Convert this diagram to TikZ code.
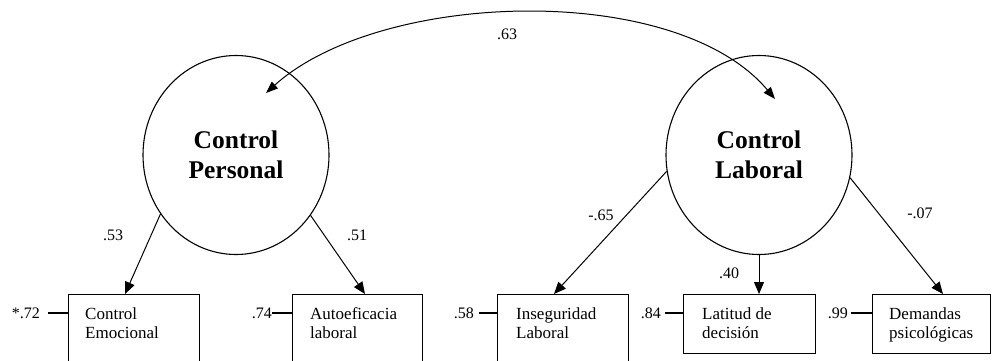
\documentclass[tikz,border=0pt]{standalone}
\usepackage{fontspec}
\setmainfont{Liberation Serif}
\usetikzlibrary{arrows.meta,calc,shapes.geometric}

\tikzset{
  latent/.style={ellipse, draw, line width=1.1pt, minimum width=186pt,
    minimum height=199pt, inner sep=0pt, align=center,
    font=\fontsize{25.5}{30}\selectfont\bfseries},
  obsbox/.style={rectangle, draw, line width=1.2pt, anchor=north west,
    inner sep=0pt, minimum height=90pt},
  boxtext/.style={anchor=base west, align=left, inner sep=0pt,
    font=\fontsize{17}{18.5}\selectfont},
  coef/.style={inner sep=0pt, font=\fontsize{16}{18}\selectfont},
  errlbl/.style={inner sep=0pt, anchor=east, font=\fontsize{16}{18}\selectfont},
  path/.style={line width=1pt, -{Triangle[length=12pt,width=10pt]}},
  corr/.style={line width=1pt, {Triangle[length=12pt,width=9pt]}-{Triangle[length=12pt,width=9pt]}},
  errline/.style={line width=1.1pt}
}

\begin{document}
\begin{tikzpicture}[x=1pt,y=1pt]
\useasboundingbox (0,0) rectangle (993,-360);
\clip (0,0) rectangle (993,-360);

% latent factors
\node[latent] (cp) at (236,-155) {Control\\Personal};
\node[latent] (cl) at (759,-155) {Control\\Laboral};

% observed indicators
\node[obsbox, minimum width=131pt] (ce)  at (68,-294)  {};
\node[obsbox, minimum width=130pt] (ae)  at (292,-294) {};
\node[obsbox, minimum width=131pt] (ins) at (497,-294) {};
\node[obsbox, minimum width=132pt, minimum height=59pt] (lat) at (683,-294) {};
\node[obsbox, minimum width=118pt, minimum height=59pt] (dem) at (872,-294) {};

% two-line captions; the base anchor sits on the second line
\node[boxtext] (tce)  at ($(ce.north west)+(17,-44)$)  {Control\\Emocional};
\node[boxtext] (tae)  at ($(ae.north west)+(18,-44)$)  {Autoeficacia\\laboral};
\node[boxtext] (tins) at ($(ins.north west)+(19,-44)$) {Inseguridad\\Laboral};
\node[boxtext] (tlat) at ($(lat.north west)+(19,-44)$) {Latitud de\\decisión};
\node[boxtext] (tdem) at ($(dem.north west)+(17,-44)$) {Demandas\\psicológicas};

% correlation between factors
\draw[corr] ($(cp.center)+(30,62)$) .. controls +(42:154) and +(130:154) .. ($(cl.center)+(16,56)$);
\node[coef] (r63) at (507,-34) {.63};

% factor loadings
\draw[path] (cp.218) -- ($(ce.north west)+(57,0)$);
\draw[path] (cp.321) -- ($(ae.north west)+(73,0)$);
\draw[path] (cl.190) -- ($(ins.north west)+(57,0)$);
\draw[path] (cl.south) -- (cl.south |- lat.north);
\draw[path] (cl.346) -- ($(dem.north west)+(71,0)$);

\node[coef] (l53) at (113,-235) {.53};
\node[coef] (l51) at (357,-235) {.51};
\node[coef] (l65) at (601,-215) {-.65};
\node[coef] (l40) at (729,-273) {.40};
\node[coef] (l07) at (920,-213) {-.07};

% error terms
\node[errlbl] (e72) at (40,-313)  {*.72};
\node[errlbl] (e74) at (272,-313) {.74};
\node[errlbl] (e58) at (474,-313) {.58};
\node[errlbl] (e84) at (661,-313) {.84};
\node[errlbl] (e99) at (848,-313) {.99};

\draw[errline] ([xshift=8pt]e72.east) -- (e72.east -| ce.west);
\draw[errline] (e74.east) -- (e74.east -| ae.west);
\draw[errline] ([xshift=5pt]e58.east) -- (e58.east -| ins.west);
\draw[errline] ([xshift=4pt]e84.east) -- (e84.east -| lat.west);
\draw[errline] ([xshift=3pt]e99.east) -- (e99.east -| dem.west);
\end{tikzpicture}
\end{document}
